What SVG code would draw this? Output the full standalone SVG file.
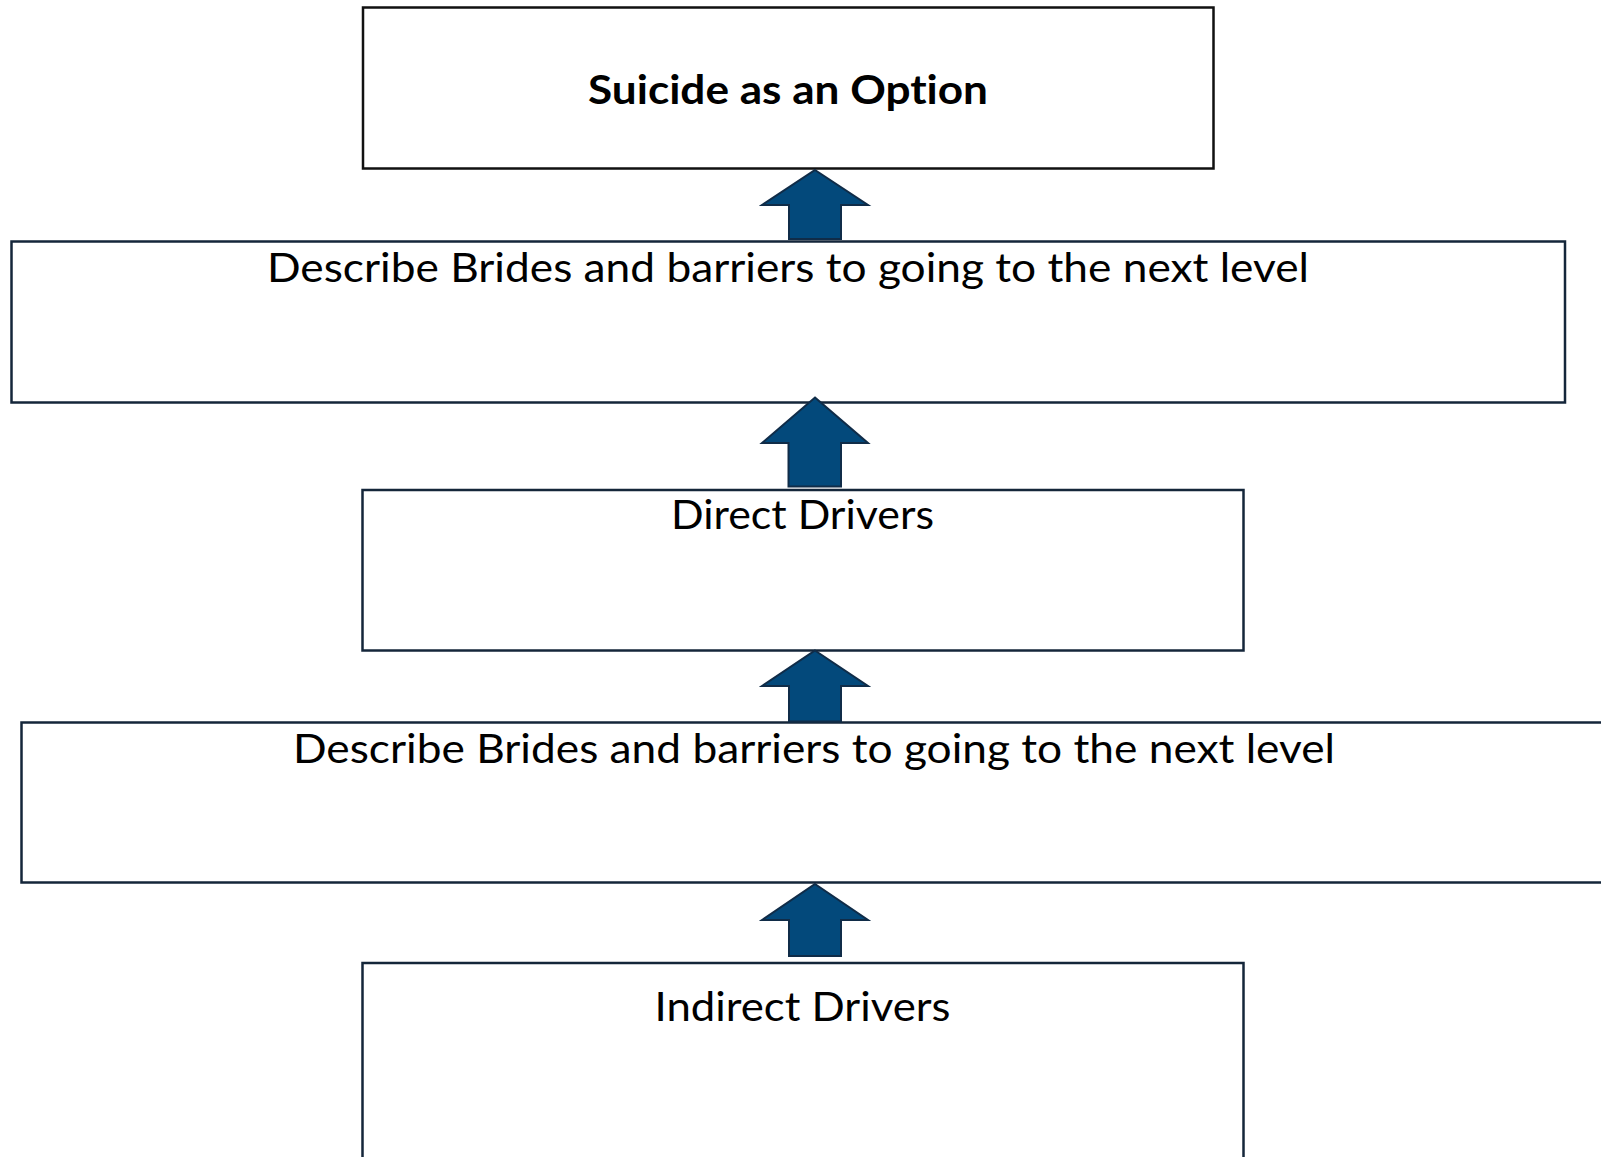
<svg xmlns="http://www.w3.org/2000/svg" width="1601" height="1157" viewBox="0 0 1601 1157">
  <style>
    .box { fill: #ffffff; stroke: #14263a; stroke-width: 2.5; }
    .box-top { fill: #ffffff; stroke: #111111; stroke-width: 2.5; }
    text { font-variant-ligatures: none; font-feature-settings: "liga" 0; }
    .label { font-family: Lato, "Open Sans", "Liberation Sans", sans-serif; font-size: 41px; fill: #000000; text-anchor: middle; }
    .title { font-family: Lato, "Open Sans", "Liberation Sans", sans-serif; font-size: 41px; font-weight: bold; fill: #000000; text-anchor: middle; }
    .arrow { fill: #03497b; stroke: #102c48; stroke-width: 2; stroke-linejoin: miter; }
  </style>
  <rect x="0" y="0" width="1601" height="1157" fill="#ffffff"/>

  <g id="node-suicide-option">
    <rect class="box-top" x="363" y="7.5" width="850.5" height="161"/>
    <text class="title" x="788" y="104" textLength="400" lengthAdjust="spacingAndGlyphs">Suicide as an Option</text>
  </g>

  <g id="node-bridges-upper">
    <rect class="box" x="11.5" y="241.5" width="1553.5" height="161"/>
    <text class="label" x="788" y="282" textLength="1042" lengthAdjust="spacingAndGlyphs">Describe Brides and barriers to going to the next level</text>
  </g>

  <g id="node-direct-drivers">
    <rect class="box" x="362.5" y="490" width="881" height="160.5"/>
    <text class="label" x="802.5" y="529" textLength="263" lengthAdjust="spacingAndGlyphs">Direct Drivers</text>
  </g>

  <g id="node-bridges-lower">
    <rect class="box" x="21.5" y="722.5" width="1585" height="160"/>
    <text class="label" x="814" y="763" textLength="1042" lengthAdjust="spacingAndGlyphs">Describe Brides and barriers to going to the next level</text>
  </g>

  <g id="node-indirect-drivers">
    <rect class="box" x="362.5" y="963" width="881" height="220"/>
    <text class="label" x="802.5" y="1021" textLength="296" lengthAdjust="spacingAndGlyphs">Indirect Drivers</text>
  </g>

  <g id="connectors">
    <polygon class="arrow" points="815,170 868,205 841,205 841,239 789,239 789,205 762,205"/>
    <polygon class="arrow" points="815,397.5 868,443 841,443 841,486.5 788.5,486.5 788.5,443 762,443"/>
    <polygon class="arrow" points="815,650.5 868,686 841,686 841,721.5 789,721.5 789,686 762,686"/>
    <polygon class="arrow" points="815,884 868,920 841,920 841,956 789,956 789,920 762,920"/>
  </g>
</svg>
